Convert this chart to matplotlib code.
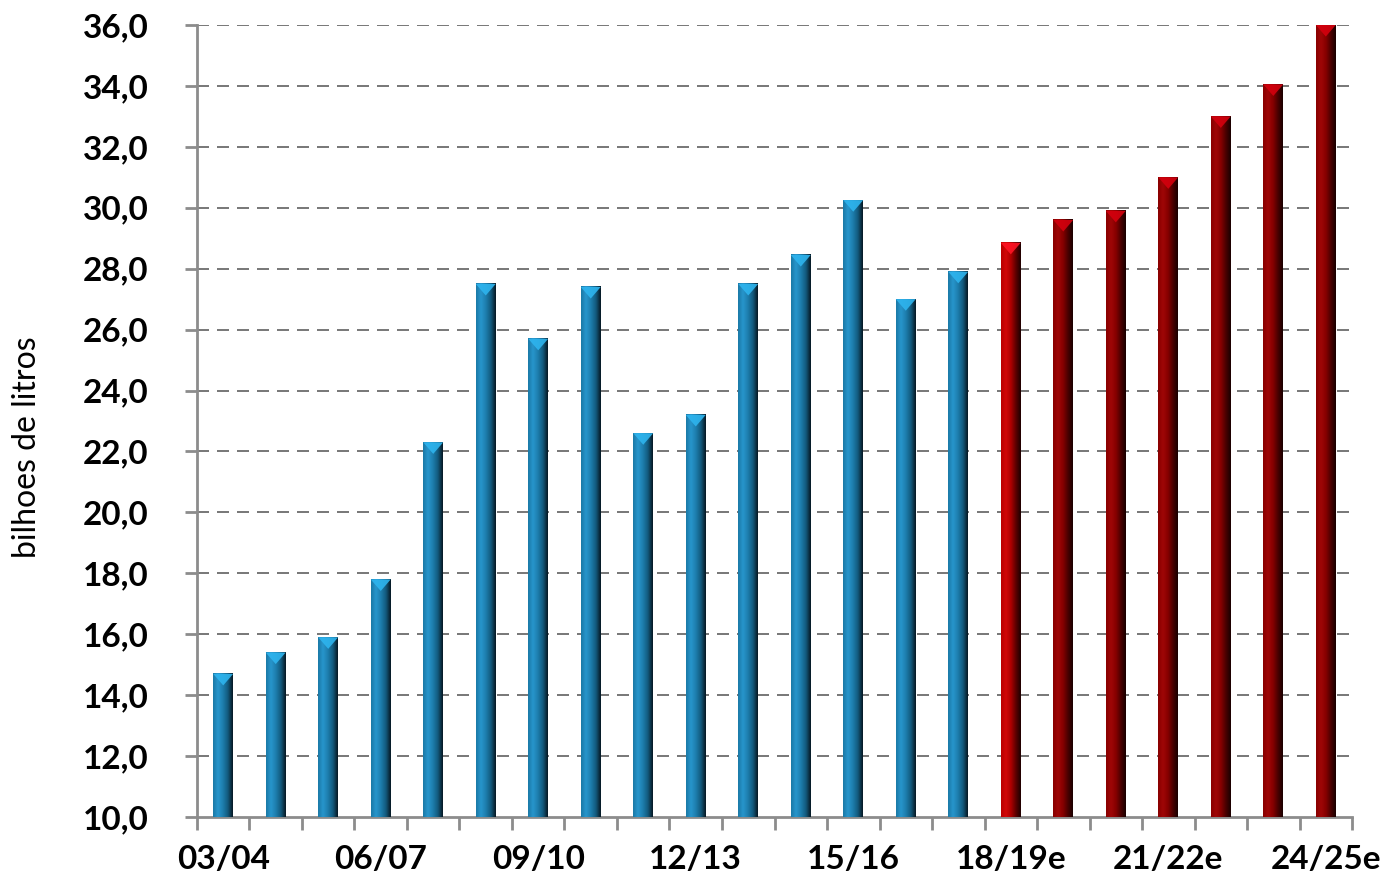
import matplotlib
matplotlib.use("Agg")
import matplotlib.pyplot as plt
import numpy as np
from matplotlib.colors import LinearSegmentedColormap
from matplotlib.patches import Polygon

# Safras (harvest seasons) and volumes, in billions of litres
safras = ["03/04", "04/05", "05/06", "06/07", "07/08", "08/09", "09/10", "10/11",
          "11/12", "12/13", "13/14", "14/15", "15/16", "16/17", "17/18",
          "18/19e", "19/20e", "20/21e", "21/22e", "22/23e", "23/24e", "24/25e"]
volumes = [14.7, 15.4, 15.9, 17.8, 22.3, 27.5, 25.7, 27.4, 22.6, 23.2, 27.5,
           28.45, 30.25, 27.0, 27.9, 28.85, 29.6, 29.9, 31.0, 33.0, 34.05, 36.0]
# series style per bar: observed, first estimate, later estimates
series = ["obs"] * 15 + ["est1"] + ["est"] * 6
yticks = np.arange(10, 36.1, 2)
label_every = 3

styles = {
    "obs": (["#1a78a5", "#2796cc", "#1d7dad", "#135a7d", "#061620"], "#2eb4ee"),
    "est1": (["#b80000", "#d20808", "#ad0000", "#5c0000", "#1c0000"], "#ff1424"),
    "est": (["#880000", "#a00606", "#860000", "#4a0000", "#180000"], "#d4000e"),
}

plt.rcParams["font.family"] = ["Lato", "DejaVu Sans"]
fig = plt.figure(figsize=(13.87, 8.85), dpi=100)
ax = fig.add_axes([0.142, 0.0768, 0.8328, 0.895])

x = np.arange(len(safras))
bars = ax.bar(x, np.array(volumes) - 10, bottom=10, width=0.38,
              color="none", edgecolor="none", zorder=3)

grad = np.linspace(0, 1, 256).reshape(1, -1)
cap_h = 0.38
for rect, kind in zip(bars, series):
    stops, cap_col = styles[kind]
    cmap = LinearSegmentedColormap.from_list(kind, stops)
    x0, y0 = rect.get_x(), rect.get_y()
    w, h = rect.get_width(), rect.get_height()
    ax.imshow(grad, cmap=cmap, aspect="auto", extent=(x0, x0 + w, y0, y0 + h),
              zorder=3, interpolation="bicubic")
    top = y0 + h
    ax.add_patch(Polygon([(x0, top), (x0 + w, top), (x0 + w * 0.5, top - cap_h)],
                         closed=True, facecolor=cap_col, edgecolor="none",
                         alpha=0.9, zorder=4))

ax.set_xlim(-0.5, len(safras) - 0.5)
ax.set_ylim(10, 36)
ax.set_yticks(yticks)
ax.set_yticklabels([f"{v:.1f}".replace(".", ",") for v in yticks])
ax.set_xticks(x[::label_every])
ax.set_xticklabels(safras[::label_every])
ax.set_xticks(np.arange(-0.5, len(safras), 1), minor=True)

for v in yticks[1:]:
    ax.axhline(v, color="#7a7a7a", lw=1.44, dashes=(6, 4), zorder=1)

gray = "#8c8c8c"
for side in ("top", "right"):
    ax.spines[side].set_visible(False)
for side in ("left", "bottom"):
    ax.spines[side].set_color(gray)
    ax.spines[side].set_linewidth(2)

ax.tick_params(axis="y", which="major", direction="out", length=9, width=2,
               color=gray, labelsize=24, pad=26)
ax.tick_params(axis="x", which="major", length=0, labelsize=24, pad=20)
ax.tick_params(axis="x", which="minor", direction="out", length=9, width=2,
               color=gray)
for lab in ax.get_xticklabels() + ax.get_yticklabels():
    lab.set_fontweight("bold")

ax.set_ylabel("bilhoes de litros", fontsize=23)
ax.yaxis.set_label_coords(-0.134, 0.467)

fig.savefig("out.png", dpi=100, facecolor="white")
